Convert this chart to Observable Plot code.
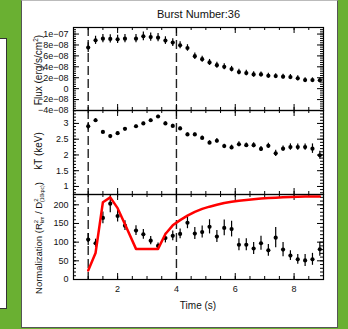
<!DOCTYPE html>
<html><head><meta charset="utf-8">
<script src="https://cdn.jsdelivr.net/npm/d3@7"></script>
<script src="https://cdn.jsdelivr.net/npm/@observablehq/plot@0.6"></script>
<style>
html,body{margin:0;padding:0;}
body{width:348px;height:329px;background:#6ab032;position:relative;overflow:hidden;font-family:"Liberation Sans",Arial,sans-serif;}
#strip{position:absolute;left:0;top:38px;width:6px;height:269px;background:#fff;border-right:1px solid #333;border-bottom:1px solid #333;border-top:1px solid #333;}
#panel{position:absolute;left:21px;top:0;width:315px;height:326px;background:#fff;border:1px solid #555;border-top-color:#bbb;}
.layer{position:absolute;left:0;top:0;}
</style></head><body>
<div id="strip"></div><div id="panel"></div>
<div id="chart"></div>
<script>
// ---- data ----
const time = [1.0,1.25,1.5,1.75,2.0,2.25,2.625,2.875,3.125,3.375,3.625,3.875,4.125,4.375,4.625,4.875,5.125,5.375,5.625,5.875,6.125,6.375,6.625,6.875,7.125,7.375,7.625,7.875,8.125,8.375,8.625,8.875];
// flux in units of 1e-08 erg/s/cm2
const flux = [7.53,8.85,9.16,9.10,9.04,9.16,9.16,9.58,9.45,9.34,8.80,8.44,7.95,7.45,5.95,5.40,4.80,4.30,4.00,3.58,3.04,2.85,2.60,2.60,2.36,2.30,2.20,2.13,1.90,1.58,1.58,1.52];
const fluxErr = [0.9,0.75,0.75,0.75,0.75,0.75,0.75,0.8,0.75,0.75,0.7,0.7,0.65,0.6,0.6,0.55,0.55,0.55,0.55,0.5,0.5,0.5,0.5,0.45,0.45,0.45,0.45,0.45,0.45,0.4,0.4,0.4];
const kT = [2.91,3.10,2.73,2.60,2.69,2.83,2.91,3.00,3.10,3.22,3.00,2.92,2.84,2.65,2.65,2.54,2.39,2.45,2.28,2.24,2.34,2.31,2.31,2.19,2.29,2.05,2.20,2.25,2.25,2.25,2.20,1.99];
const kTErr = [0.12,0.05,0.04,0.04,0.04,0.04,0.04,0.04,0.04,0.04,0.05,0.05,0.05,0.05,0.05,0.06,0.06,0.07,0.06,0.07,0.08,0.07,0.08,0.08,0.08,0.1,0.08,0.1,0.1,0.1,0.15,0.13];
const norm = [107,97,165,203,170,144,131,121,104,90,111,117,122,152,123,127,141,115,138,135,93,93,83,97,78,112,80,64,54,51,54,81];
const normErr = [16,11,16,24,16,13,13,13,11,8,13,13,13,16,16,16,19,16,21,21,16,16,16,19,16,27,19,13,13,16,16,19];
const model = [24,71,207,220,191,148,82,82,82,82,122,145,159,171,181,189,195,200,205,208,211,213,215,217,218,219,220,221,221.5,222,222,222.5];
const markers = [1, 4];

const timeTicks = [2,4,6,8];
const fluxTicks = [-4,-2,0,2,4,6,8,10];
const fluxTickLabels = ["\u22124e\u221208","\u22122e\u221208","0","2e\u221208","4e\u221208","6e\u221208","8e\u221208","1e\u221207"];
const kTTicks = [1,1.5,2,2.5,3];
const normTicks = [0,50,100,150,200];

// ---- layout ----
const W = 348, H = 329, X0 = 73, X1 = 323;
const xDomain = [0.5, 9.0];
const FONT = "'Liberation Sans', Arial, sans-serif";

const rows = time.map((t, i) => ({t, flux: flux[i], fe: fluxErr[i], kT: kT[i], ke: kTErr[i], norm: norm[i], ne: normErr[i], model: model[i]}));

const xMajor = d3.range(1, 9.01, 1).filter(v => v % 2 === 0);
const xMinor = d3.range(0.5, 9.01, 0.5);

function panel({top, bottom, yDomain, yMajor, yMinor, yFormat, marks, xLabels}) {
  const fw = X1 - X0, fh = bottom - top;
  const m = [
    Plot.ruleX(markers, {stroke: "#222", strokeWidth: 1.4, strokeDasharray: "9,4"}),
    Plot.tickY(yMajor, {y: d => d, insetRight: fw - 6, stroke: "black"}),
    Plot.tickY(yMajor, {y: d => d, insetLeft: fw - 6, stroke: "black"}),
    Plot.tickY(yMinor, {y: d => d, insetRight: fw - 3, stroke: "black"}),
    Plot.tickY(yMinor, {y: d => d, insetLeft: fw - 3, stroke: "black"}),
    Plot.tickX(xMajor, {x: d => d, insetTop: fh - 6, stroke: "black"}),
    Plot.tickX(xMajor, {x: d => d, insetBottom: fh - 6, stroke: "black"}),
    Plot.tickX(xMinor, {x: d => d, insetTop: fh - 3, stroke: "black"}),
    Plot.tickX(xMinor, {x: d => d, insetBottom: fh - 3, stroke: "black"}),
    Plot.axisY(yMajor, {anchor: "left", tickSize: 0, tickPadding: 5, tickFormat: yFormat, label: null, fill: "#111"}),
    ...marks,
    Plot.frame({stroke: "black", strokeWidth: 1.2})
  ];
  if (xLabels) m.push(Plot.axisX(xLabels, {anchor: "bottom", tickSize: 0, tickPadding: 6, label: null, fill: "#111"}));
  const svg = Plot.plot({
    width: W, height: H,
    marginLeft: X0, marginRight: W - X1, marginTop: top, marginBottom: H - bottom,
    style: {background: "transparent", overflow: "visible", fontFamily: FONT, fontSize: "9px", color: "#000"},
    x: {domain: xDomain, axis: null},
    y: {domain: yDomain, axis: null},
    marks: m
  });
  svg.classList.add("layer");
  svg.style.position = "absolute";
  svg.style.left = "0px"; svg.style.top = "0px";
  return svg;
}

const chart = document.getElementById("chart");

chart.appendChild(panel({
  top: 27, bottom: 110, yDomain: [-4, 11.2],
  yMajor: fluxTicks, yMinor: d3.range(-4, 11.2, 0.4),
  yFormat: d => fluxTickLabels[fluxTicks.indexOf(d)],
  marks: [
    Plot.ruleX(rows, {x: "t", y1: d => d.flux - d.fe, y2: d => d.flux + d.fe, stroke: "black", strokeWidth: 1.2}),
    Plot.dot(rows, {x: "t", y: "flux", r: 2.1, fill: "black"})
  ]
}));

chart.appendChild(panel({
  top: 110, bottom: 194, yDomain: [0.745, 3.41],
  yMajor: kTTicks, yMinor: d3.range(0.8, 3.41, 0.1),
  yFormat: d => String(d),
  marks: [
    Plot.ruleX(rows, {x: "t", y1: d => d.kT - d.ke, y2: d => d.kT + d.ke, stroke: "black", strokeWidth: 1.2}),
    Plot.dot(rows, {x: "t", y: "kT", r: 2.1, fill: "black"})
  ]
}));

chart.appendChild(panel({
  top: 194, bottom: 279, yDomain: [0, 227.6],
  yMajor: normTicks, yMinor: d3.range(0, 227.6, 10),
  yFormat: d => String(d),
  xLabels: timeTicks,
  marks: [
    Plot.ruleX(rows, {x: "t", y1: d => d.norm - d.ne, y2: d => d.norm + d.ne, stroke: "black", strokeWidth: 1.2}),
    Plot.dot(rows, {x: "t", y: "norm", r: 2.1, fill: "black"}),
    Plot.line(rows, {x: "t", y: "model", stroke: "#ff0000", strokeWidth: 2.5})
  ]
}));

// titles
const ns = "http://www.w3.org/2000/svg";
const ov = document.createElementNS(ns, "svg");
ov.setAttribute("width", W); ov.setAttribute("height", H);
ov.setAttribute("class", "layer");
ov.style.position = "absolute"; ov.style.left = "0"; ov.style.top = "0";
ov.innerHTML = `
<g font-family="${FONT}" fill="#111">
  <text x="198.5" y="18" text-anchor="middle" font-size="11">Burst Number:36</text>
  <text x="198" y="309" text-anchor="middle" font-size="10">Time (s)</text>
  <text transform="translate(42,70) rotate(-90)" text-anchor="middle" font-size="10">Flux (erg/s/cm<tspan dy="-4" font-size="6.5">2</tspan><tspan dy="4">)</tspan></text>
  <text transform="translate(42,151) rotate(-90)" text-anchor="middle" font-size="10">kT (keV)</text>
  <text transform="translate(42,238) rotate(-90)" text-anchor="middle" font-size="9.5">Normalization (R<tspan dy="-4" font-size="6">2</tspan><tspan dx="-3.4" dy="6" font-size="5">km</tspan><tspan dy="-2"> / D</tspan><tspan dy="-4" font-size="6">2</tspan><tspan dx="-3.4" dy="6" font-size="5">(10kpc)</tspan><tspan dy="-2">)</tspan></text>
</g>`;
chart.appendChild(ov);
</script>
</body></html>
